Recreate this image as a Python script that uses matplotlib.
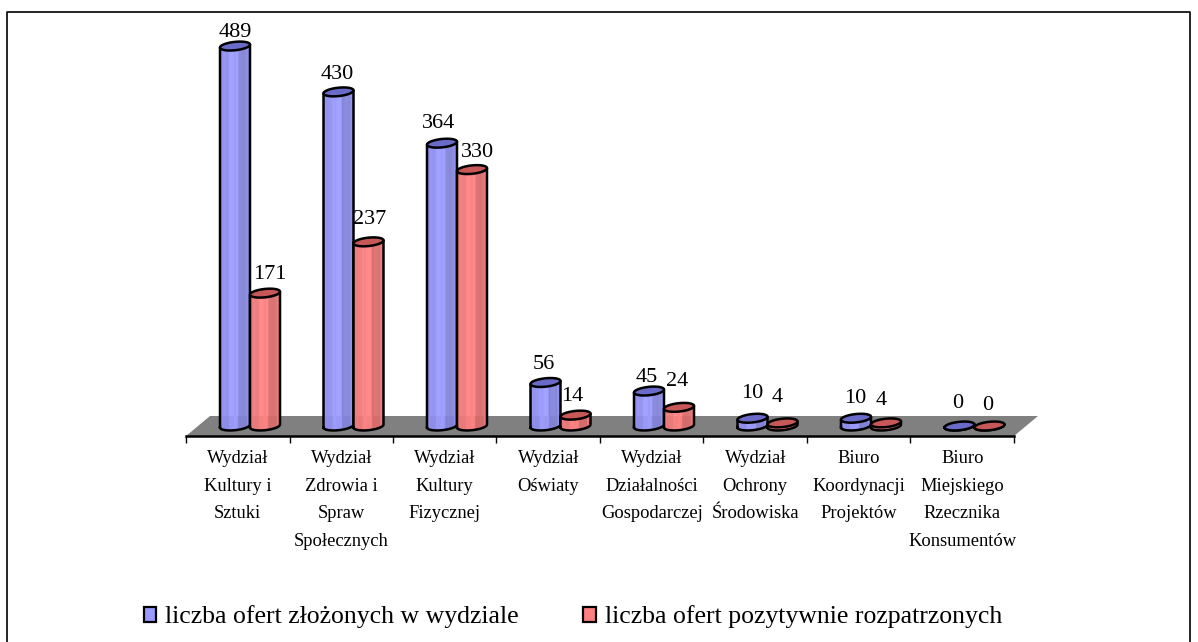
import numpy as np
import matplotlib
matplotlib.use('Agg')
import matplotlib.pyplot as plt
from matplotlib.lines import Line2D
from matplotlib.patches import Patch, Polygon

categories = ['Wydział\nKultury i\nSztuki', 'Wydział\nZdrowia i\nSpraw\nSpołecznych',
              'Wydział\nKultury\nFizycznej', 'Wydział\nOświaty',
              'Wydział\nDziałalności\nGospodarczej', 'Wydział\nOchrony\nŚrodowiska',
              'Biuro\nKoordynacji\nProjektów', 'Biuro\nMiejskiego\nRzecznika\nKonsumentów']
submitted = [489, 430, 364, 56, 45, 10, 10, 0]
approved = [171, 237, 330, 14, 24, 4, 4, 0]

plt.rcParams['font.family'] = ['Liberation Serif', 'DejaVu Serif']

W, H = 1198, 642
fig = plt.figure(figsize=(W / 100, H / 100), dpi=100)
# px per data unit
ux = 828 / 8
uy = 0.777

# axes: bottom edge is the category axis line, top edge is the frame
ax = fig.add_axes([186 / W, (H - 436) / H, 828 / W, 424 / H])
ax.set_xlim(0, 8)
ax.set_ylim(-10 / uy, 414 / uy)
ax.patch.set_visible(False)
for s in ['top', 'left', 'right']:
    ax.spines[s].set_visible(False)
ax.spines['bottom'].set_linewidth(1.8)
ax.set_yticks([])

ax.set_xticks(range(9))
ax.set_xticklabels([])
ax.tick_params(axis='x', which='major', length=5, width=1)
ax.set_xticks(np.arange(8) + 0.5, categories, minor=True)
ax.tick_params(axis='x', which='minor', length=0, pad=10, labelsize=13.3)
for t in ax.get_xticklabels(minor=True):
    t.set_linespacing(1.82)
    t.set_verticalalignment('top')

# gray floor
floor = Polygon([(0, -10 / uy), (8, -10 / uy), (8 + 24 / ux, 10 / uy), (24 / ux, 10 / uy)],
                closed=True, fc='#808080', ec='none', clip_on=False, zorder=1)
ax.add_patch(floor)


def ellipse(cx, y, w):
    # flattened tilted disc for the cylinder ends
    t = np.linspace(0, 2 * np.pi, 60)
    xs = cx + w / 2 * np.cos(t)
    ys = y + (4.2 * np.sin(t) + 1.5 * np.cos(t)) / uy
    return xs, ys


def cylinder(cx, val, w, mid, light, dark, top, z):
    t = np.linspace(np.pi, 2 * np.pi, 41)
    bx = cx + w / 2 * np.cos(t)
    by = (4.2 * np.sin(t) + 1.5 * np.cos(t)) / uy
    # body shading as vertical strips
    for a in range(40):
        f = (bx[a] + bx[a + 1] - 2 * bx[0]) / 2 / (bx[-1] - bx[0])
        if f < 0.3:
            col = mid
        elif f < 0.6:
            col = light
        elif f < 0.9:
            col = dark
        else:
            col = mid
        xs = [bx[a], bx[a + 1], bx[a + 1], bx[a]]
        ys = [by[a], by[a + 1], val + by[a + 1], val + by[a]]
        ax.add_patch(Polygon(list(zip(xs, ys)), closed=True, fc=col, ec=col, lw=0.3, zorder=z))
    out_x = list(bx) + [bx[-1], bx[0], bx[0]]
    out_y = list(by) + [val + by[-1], val + by[0], by[0]]
    ax.plot(out_x, out_y, color='black', lw=1.8, zorder=z + 0.1, solid_joinstyle='round')
    ex, ey = ellipse(cx, val, w)
    ax.fill(ex, ey, fc=top, ec='black', lw=1.8, zorder=z + 0.2)


bar_w = 30 / ux
off_sub = 49 / ux
off_app = 79 / ux

# label offsets in px from the bar top
sub_off = [(0, 14), (-1, 17), (-3, 20), (-2, 18), (-2, 14), (0, 25), (-1, 20), (-2, 23)]
app_off = [(5, 19), (1, 22), (6, 17), (-3, 19), (-2, 26), (-5, 25), (-5, 22), (-2, 21)]

for i in range(8):
    cylinder(i + off_sub, submitted[i], bar_w, '#9090F0', '#9C9CFF', '#8484DA', '#6A6AC8', 3)
    cylinder(i + off_app, approved[i], bar_w, '#F07A7A', '#FF8282', '#DA6C6C', '#C85858', 4)
    for x, v, (dx, dy) in [(i + off_sub, submitted[i], sub_off[i]), (i + off_app, approved[i], app_off[i])]:
        ax.annotate(str(v), (x, v), xytext=(dx * 0.72, dy * 0.72), textcoords='offset points',
                    ha='center', va='center', fontsize=16, color='black', zorder=6, annotation_clip=False)

# outer frame, open at the bottom
fig.add_artist(Line2D([7 / W, 7 / W, 1190 / W, 1190 / W],
                      [0, (H - 12) / H, (H - 12) / H, 0], color='black', lw=1.2))

handles = [Patch(fc='#9999FF', ec='black', lw=1.6), Patch(fc='#FF8080', ec='black', lw=1.6)]
fig.legend(handles, ['liczba ofert złożonych w wydziale', 'liczba ofert pozytywnie rozpatrzonych'],
           loc='center', bbox_to_anchor=(573 / W, (H - 617) / H), ncol=2, frameon=False,
           fontsize=18.5, handlelength=0.5, handleheight=0.5, handletextpad=0.35, columnspacing=2.5)

fig.savefig('out.png', dpi=100)
